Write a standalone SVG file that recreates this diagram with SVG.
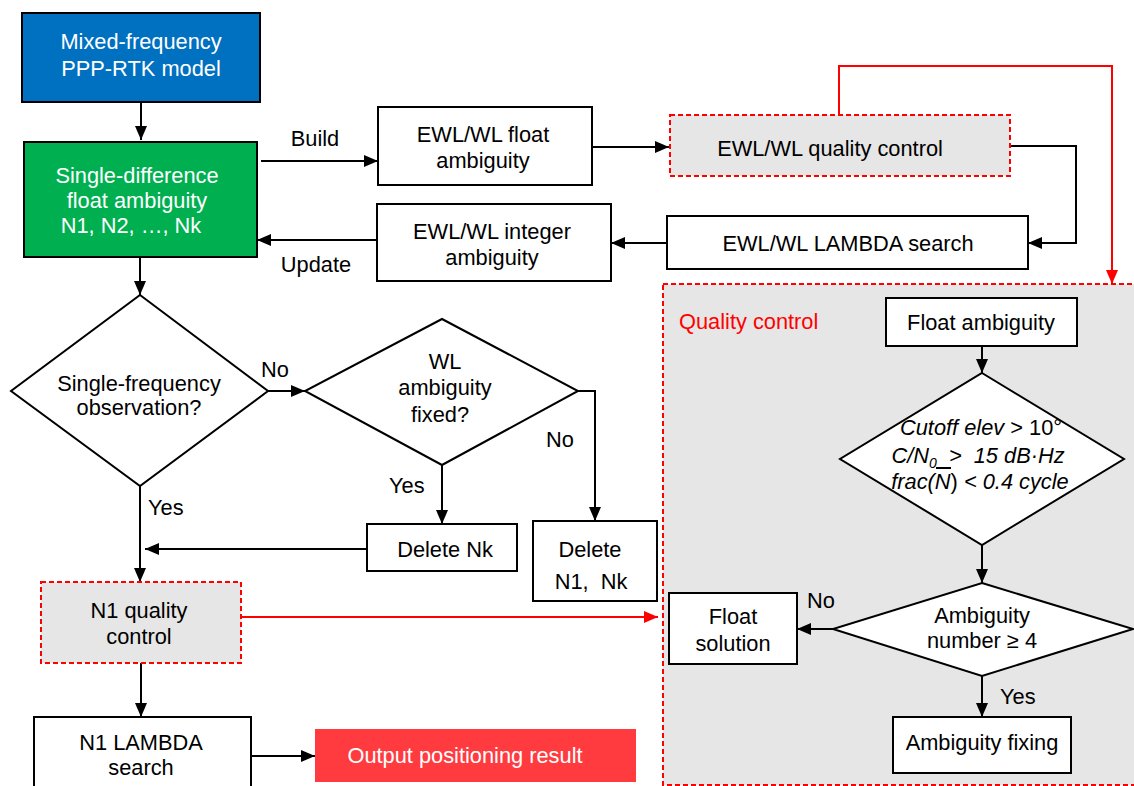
<svg xmlns="http://www.w3.org/2000/svg" width="1134" height="786" viewBox="0 0 1134 786">
<defs>
<marker id="ah" viewBox="0 0 14 12" refX="14" refY="6" markerWidth="14" markerHeight="12" markerUnits="userSpaceOnUse" orient="auto"><path d="M0,0 L14,6 L0,12 Z" fill="#000"/></marker>
<marker id="ahr" viewBox="0 0 14 12" refX="14" refY="6" markerWidth="14" markerHeight="12" markerUnits="userSpaceOnUse" orient="auto"><path d="M0,0 L14,6 L0,12 Z" fill="#FF0000"/></marker>
</defs>
<style>
text{font-family:"Liberation Sans",Arial,sans-serif;font-size:21.8px;fill:#000;text-anchor:middle}
.w{fill:#fff}
.l{text-anchor:start}
.it{font-style:italic}
.box{fill:#fff;stroke:#000;stroke-width:2}
.qc{fill:#E6E6E6;stroke:#FF0000;stroke-width:2;stroke-dasharray:5 3}
.c{fill:none;stroke:#000;stroke-width:2}
.cr{fill:none;stroke:#FF0000;stroke-width:2}
</style>
<rect width="1134" height="786" fill="#fff"/>
<g id="qc-region">
<rect class="qc" x="663" y="284" width="490" height="501"/>
<text class="l" x="679" y="329" style="fill:#FF0000">Quality control</text>
</g>
<g id="connectors">
<path class="c" d="M141,102 V140" marker-end="url(#ah)"/>
<path class="c" d="M261,161 H378" marker-end="url(#ah)"/>
<path class="c" d="M592,147 H669" marker-end="url(#ah)"/>
<path class="c" d="M1010,146 H1076 V243 H1028" marker-end="url(#ah)"/>
<path class="c" d="M667,243 H611" marker-end="url(#ah)"/>
<path class="c" d="M377,240 H257" marker-end="url(#ah)"/>
<path class="cr" d="M839,115 V66 H1112 V284" marker-end="url(#ahr)"/>
<path class="c" d="M140,257 V295" marker-end="url(#ah)"/>
<path class="c" d="M268,391 H305" marker-end="url(#ah)"/>
<path class="c" d="M578,391 H595 V521" marker-end="url(#ah)"/>
<path class="c" d="M442,465 V524" marker-end="url(#ah)"/>
<path class="c" d="M367,549 H145" marker-end="url(#ah)"/>
<path class="c" d="M140,486 V582" marker-end="url(#ah)"/>
<path class="cr" d="M241,617 H658" marker-end="url(#ahr)"/>
<path class="c" d="M141,663 V717" marker-end="url(#ah)"/>
<path class="c" d="M251,756 H315" marker-end="url(#ah)"/>
<path class="c" d="M982,346 V373" marker-end="url(#ah)"/>
<path class="c" d="M982,545 V583" marker-end="url(#ah)"/>
<path class="c" d="M833,629 H797" marker-end="url(#ah)"/>
<path class="c" d="M982,676 V717" marker-end="url(#ah)"/>
<text x="315" y="146">Build</text>
<text x="316" y="272">Update</text>
<text class="l" x="261" y="377">No</text>
<text class="l" x="546" y="447">No</text>
<text class="l" x="389" y="493">Yes</text>
<text class="l" x="148" y="515">Yes</text>
<text class="l" x="807" y="608">No</text>
<text class="l" x="1000" y="704">Yes</text>
</g>
<g id="mixed">
<rect x="22" y="13" width="238" height="89" fill="#0070C0" stroke="#000" stroke-width="2"/>
<text class="w" x="141" y="49">Mixed-frequency</text>
<text class="w" x="141" y="76">PPP-RTK model</text>
</g>
<g id="sd">
<rect x="24" y="142" width="233" height="115" fill="#00B050" stroke="#000" stroke-width="2"/>
<text class="w" x="137" y="183">Single-difference</text>
<text class="w" x="137" y="208">float ambiguity</text>
<text class="w" x="131" y="233">N1, N2, …, Nk</text>
</g>
<g id="ewl-float">
<rect class="box" x="378" y="107" width="214" height="78"/>
<text x="483" y="142">EWL/WL float</text>
<text x="483" y="168">ambiguity</text>
</g>
<g id="ewl-qc">
<rect class="qc" x="670" y="115" width="340" height="61"/>
<text x="830" y="156">EWL/WL quality control</text>
</g>
<g id="ewl-lambda">
<rect class="box" x="667" y="216" width="361" height="53"/>
<text x="848" y="251">EWL/WL LAMBDA search</text>
</g>
<g id="ewl-int">
<rect class="box" x="377" y="204" width="234" height="77"/>
<text x="492" y="239">EWL/WL integer</text>
<text x="492" y="265">ambiguity</text>
</g>
<g id="single-freq">
<path class="box" d="M140,295 L268,391 L140,486 L11,391 Z"/>
<text x="139" y="391">Single-frequency</text>
<text x="139" y="415">observation?</text>
</g>
<g id="wl-fixed">
<path class="box" d="M442,319 L578,391 L442,465 L305,391 Z"/>
<text x="445" y="369">WL</text>
<text x="445" y="395">ambiguity</text>
<text x="440" y="422">fixed?</text>
</g>
<g id="delete-nk">
<rect class="box" x="367" y="524" width="150" height="47"/>
<text x="445" y="557">Delete Nk</text>
</g>
<g id="delete-n1nk">
<rect class="box" x="533" y="521" width="124" height="80"/>
<text x="590" y="557">Delete</text>
<text x="591" y="589" style="white-space:pre">N1,  Nk</text>
</g>
<g id="n1-qc">
<rect class="qc" x="41" y="582" width="200" height="81"/>
<text x="139" y="618">N1 quality</text>
<text x="139" y="644">control</text>
</g>
<g id="n1-lambda">
<rect class="box" x="34" y="717" width="217" height="80"/>
<text x="141" y="750">N1 LAMBDA</text>
<text x="141" y="775">search</text>
</g>
<g id="output">
<rect x="315" y="729" width="321" height="53" fill="#FF3B3F"/>
<text class="w" x="465" y="763">Output positioning result</text>
</g>
<g id="float-amb">
<rect class="box" x="886" y="298" width="191" height="48"/>
<text x="981" y="330">Float ambiguity</text>
</g>
<g id="criteria">
<path class="box" d="M982,373 L1124,459 L982,545 L840,459 Z"/>
<text x="981" y="435"><tspan class="it">Cutoff elev</tspan> &gt; 10°</text>
<text class="it" x="978" y="463" style="white-space:pre">C/N<tspan font-size="14" dy="5">0</tspan><tspan dy="-5">  &gt;  15 dB·Hz</tspan></text>
<line x1="936" y1="468" x2="951" y2="468" stroke="#000" stroke-width="2"/>
<text x="980" y="489"><tspan class="it">frac(N</tspan>) <tspan class="it">&lt; 0.4 cycle</tspan></text>
</g>
<g id="amb-number">
<path class="box" d="M982,583 L1133,629 L982,676 L833,629 Z"/>
<text x="982" y="623">Ambiguity</text>
<text x="982" y="648">number ≥ 4</text>
</g>
<g id="float-sol">
<rect class="box" x="669" y="593" width="128" height="71"/>
<text x="733" y="624">Float</text>
<text x="733" y="651">solution</text>
</g>
<g id="amb-fix">
<rect class="box" x="893" y="717" width="178" height="56"/>
<text x="982" y="750">Ambiguity fixing</text>
</g>
</svg>
